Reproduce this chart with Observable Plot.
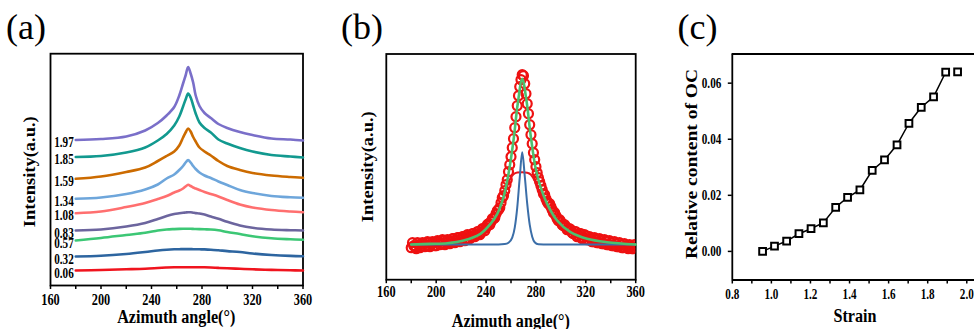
<!DOCTYPE html>
<html>
<head>
<meta charset="utf-8">
<script src="https://cdn.jsdelivr.net/npm/d3@7"></script>
<script src="https://cdn.jsdelivr.net/npm/@observablehq/plot@0.6"></script>
<style>
  html, body { margin: 0; padding: 0; background: white; }
  #fig { position: relative; width: 974px; height: 329px; overflow: hidden; background: white; }
  .panel { position: absolute; top: 0px; }
  .panel svg { display: block; background: transparent; overflow: visible; max-width: none; }
  .panel svg text { font-family: 'Liberation Serif','Times New Roman',serif !important; font-weight: bold !important; fill: black; }
  .pa svg text, .pb svg text { font-size: 16px !important; }
  .pa svg g[aria-label="text"] text { font-size: 14.5px !important; }
  .pc svg text { font-size: 14.5px !important; }
</style>
</head>
<body>
<div id="fig"></div>
<script>
// ---------------- Panel (a): stacked azimuthal profiles ----------------
const angleA = [180,200,220,235,245,252,258,262,265,267,269,271,273,275,278,282,287,293,300,310,320,335,350,360];
const strainLabels = ["1.97","1.85","1.59","1.34","1.08","0.83","0.57","0.32","0.06"];
const curveColors = ["#7A6FC9","#12998F","#CC6B00","#6EA6DB","#FF6F6F","#6C659E","#3CC775","#2D65A0","#F0141E"];
const s197 = [145.5,146.5,149,155,162.5,170,178.5,190,202,210,218.5,212,203,190,179.5,172.5,167.5,161.5,157.5,153.5,150.5,147,146,145];
const s185 = [128.5,129.5,133,138,145,151.5,160,169,179,186,192,188,180,172,163,157.5,153,146,142,137.5,134,130.5,129,128];
const s159 = [106.7,109,113.5,118,124.5,129.5,134,140,148,153,157,154,148.5,144,138,134,130,124.5,119.5,115.5,112.5,110,108.5,107.7];
const s134 = [86.7,88,91.5,96,101,107,111,115.5,119.5,123,125.5,123,119.5,116.5,113,110,107.5,104,100.5,95.5,92.5,89.5,88.2,87.7];
const s108 = [72.3,74,78.5,82.5,86.5,89.5,93,95,97,99,100.7,99.5,98,97,95.5,93.5,91.5,89,85.5,81,78,75.5,74,73.3];
const s083 = [55,56,59,62.5,66.5,69.5,71.5,72.2,72.7,73,73.3,73.2,72.8,72.4,72,71,69,66.8,63.7,60,57.7,56,55.3,55];
const s057 = [45,47.5,50.5,52.7,55,56,56.4,56.6,56.7,56.7,56.7,56.7,56.6,56.5,56.4,56.2,56,55.2,53.5,51.5,49.2,47.2,46.2,45.7];
const s032 = [29,29.7,31.5,33.5,35,35.8,36.2,36.3,36.4,36.4,36.4,36.4,36.3,36.3,36.2,36.1,35.8,35.2,34.4,33.5,32,30.5,29.6,29.3];
const s006 = [15,15.5,16.2,16.8,17.5,18,18.3,18.3,18.3,18.3,18.3,18.3,18.3,18.3,18.3,18.2,18,17.6,17.2,16.7,16.2,15.6,15.2,15];
const seriesA = [s197,s185,s159,s134,s108,s083,s057,s032,s006];

// ---------------- Panel (b): peak fitting ----------------
const dataAngle = [180,181,182,183,184,185,186,187,188,189,190,191,192,193,194,195,196,197,198,199,
  200,201,202,203,204,205,206,207,208,209,210,211,212,213,214,215,216,217,218,219,
  220,221,222,223,224,225,226,227,228,229,230,231,232,233,234,235,236,237,238,239,
  240,241,242,243,244,245,246,247,248,249,250,251,252,253,254,255,256,257,258,259,
  260,261,262,263,264,265,266,267,268,269,270,271,272,273,274,275,276,277,278,279,
  280,281,282,283,284,285,286,287,288,289,290,291,292,293,294,295,296,297,298,299,
  300,301,302,303,304,305,306,307,308,309,310,311,312,313,314,315,316,317,318,319,
  320,321,322,323,324,325,326,327,328,329,330,331,332,333,334,335,336,337,338,339,
  340,341,342,343,344,345,346,347,348,349,350,351,352,353,354,355,356,357,358,359,360];
const dataIntensity = [32,37,34,33,31,37,35,32,33,37,36,33,34,38,37,33,35,38,37,34,
  34,39,38,35,36,40,39,35,37,40,39,36,38,41,41,37,39,42,42,38,
  40,43,43,39,41,45,44,41,43,46,46,43,45,48,48,45,47,51,51,49,
  52,55,56,55,58,61,61,62,66,69,70,72,77,82,84,89,95,100,108,115,
  123,132,141,152,163,174,184,193,200,205,204,196,186,176,166,155,145,136,127,120,
  113,107,102,98,94,90,86,85,81,78,76,76,73,70,67,67,64,61,59,60,
  58,55,54,55,53,50,50,51,50,47,46,48,48,43,44,46,46,41,42,45,
  44,40,40,43,42,38,38,42,41,37,37,41,40,36,36,40,39,35,35,39,
  37,34,34,38,36,33,33,37,35,32,32,36,34,32,31,35,33,31,31,35,33];
const fitAngle = [180,195,209,222,235.5,243.6,249,254,258,262,265.4,269,272.4,275.6,279.6,283.7,289,297,307.7,321,337,360];
const fitSum = [35.2,35.8,36.5,39.2,45.9,55.9,65.9,82.5,105.9,139.2,175.9,200.9,179.2,145.9,112.5,92.5,75.9,59.2,47.5,40.9,37.5,35.2];
const narrowAngle = [180,250,255,258,261,263,265,267,269,271,273,275,277,279,282,290,360];
const narrowPeak = [35.2,35.2,35.6,37,42,52,72,102,127.5,104,76,55,43,37.5,35.5,35.2,35.2];
const broadAngle = [180,220,235,245,252,256,259,262,265,269,273,276,279,282,286,292,300,310,325,360];
const broadPeak = [35.2,39,46,58,75,90,100,105.5,107.2,107.5,107,105,99,90,79,66,54,46,40,35.5];

// ---------------- Panel (c): relative OC content ----------------
const strain = [0.955,1.016,1.078,1.141,1.203,1.266,1.329,1.390,1.453,1.516,1.579,1.643,1.704,1.767,1.830,1.892,1.953];
const ocContent = [0.0000,0.0019,0.0037,0.0063,0.0081,0.0102,0.0157,0.0193,0.0219,0.0289,0.0326,0.0380,0.0457,0.0514,0.0551,0.0639,0.0640];

// tick values
const angleTicks = [160,180,200,220,240,260,280,300,320,340,360];
const strainTicks = [0.8,0.9,1.0,1.1,1.2,1.3,1.4,1.5,1.6,1.7,1.8,1.9,2.0];
const ocTicks = [0,0.02,0.04,0.06];

const FONT = "'Liberation Serif','Times New Roman',serif";
const fig = document.getElementById("fig");

function squeeze(svg, f) {
  svg.querySelectorAll("text").forEach(t => {
    const L = t.getComputedTextLength();
    if (L > 0) { t.setAttribute("textLength", L * f); t.setAttribute("lengthAdjust", "spacingAndGlyphs"); }
  });
}
function mount(plot, cls, left) {
  const wrap = document.createElement("div");
  wrap.className = "panel " + cls;
  wrap.style.left = left + "px";
  wrap.appendChild(plot);
  fig.appendChild(wrap);
}

// Panel (a)
const tableA = seriesA.map((vals, k) => ({label: strainLabels[k], color: curveColors[k],
  pts: angleA.map((a, i) => ({angle: a, intensity: vals[i]}))}));
const plotA = Plot.plot({
  width: 320, height: 329, marginLeft: 50, marginRight: 17.5, marginTop: 53.2, marginBottom: 44,
  x: {domain: [160, 360]}, y: {domain: [0, 231.8], axis: null},
  marks: [
    Plot.frame({stroke: "black", strokeWidth: 1.8}),
    Plot.axisX(angleTicks, {label: null, tickSize: 4, tickPadding: 4.5, strokeWidth: 1.5,
      tickFormat: d => d % 40 === 0 ? String(d) : ""}),
    ...tableA.map(s => Plot.line(s.pts, {x: "angle", y: "intensity", stroke: s.color, strokeWidth: 2.6, curve: "catmull-rom"})),
    Plot.text(tableA, {x: () => angleA[0], y: s => s.pts[0].intensity, text: "label", textAnchor: "end",
      dx: -2, dy: 2.5, fill: "black"})
  ]
});

// Panel (b)
const tableData = dataAngle.map((a, i) => ({angle: a, intensity: dataIntensity[i]}));
const tableFit = fitAngle.map((a, i) => ({angle: a, intensity: fitSum[i]}));
const tableNarrow = narrowAngle.map((a, i) => ({angle: a, intensity: narrowPeak[i]}));
const tableBroad = broadAngle.map((a, i) => ({angle: a, intensity: broadPeak[i]}));
const plotB = Plot.plot({
  width: 330, height: 329, marginLeft: 65.8, marginRight: 14.8, marginTop: 53.5, marginBottom: 49.8,
  x: {domain: [160, 360]}, y: {domain: [0, 225.7], axis: null},
  marks: [
    Plot.frame({stroke: "black", strokeWidth: 1.8}),
    Plot.axisX(angleTicks, {label: null, tickSize: 4, tickPadding: 1.5, strokeWidth: 1.5,
      tickFormat: d => d % 40 === 0 ? String(d) : ""}),
    Plot.dot(tableData, {x: "angle", y: "intensity", r: 4.5, stroke: "#EE1111", strokeWidth: 2.2, fill: "none", clip: true}),
    Plot.line(tableBroad, {x: "angle", y: "intensity", stroke: "#E8151B", strokeWidth: 2, curve: "monotone-x"}),
    Plot.line(tableNarrow, {x: "angle", y: "intensity", stroke: "#3B6EA8", strokeWidth: 2, curve: "monotone-x"}),
    Plot.line(tableFit, {x: "angle", y: "intensity", stroke: "#4CC06E", strokeWidth: 2.6, curve: "catmull-rom"})
  ]
});

// Panel (c)
const tableC = strain.map((s, i) => ({strain: s, oc: ocContent[i]}));
const plotC = Plot.plot({
  width: 324, height: 329, marginLeft: 81.8, marginRight: 0, marginTop: 53.5, marginBottom: 49.5,
  x: {domain: [0.8, 2.0395]}, y: {domain: [-0.0102, 0.0704]},
  marks: [
    Plot.ruleX([0.8], {stroke: "black", strokeWidth: 1.8}),
    Plot.ruleY([-0.0102, 0.0704], {stroke: "black", strokeWidth: 1.8}),
    Plot.axisX(strainTicks, {label: null, tickSize: 4, tickPadding: 4.5, strokeWidth: 1.5,
      tickFormat: d => Math.round(d * 10) % 2 === 0 ? d.toFixed(1) : ""}),
    Plot.axisY(ocTicks, {label: null, tickSize: 4, tickPadding: 7, strokeWidth: 1.5, tickFormat: d => d.toFixed(2)}),
    Plot.line(tableC.slice(0, 16), {x: "strain", y: "oc", stroke: "black", strokeWidth: 1.5}),
    Plot.dot(tableC, {x: "strain", y: "oc", symbol: "square", r: 3.8, stroke: "black", strokeWidth: 2, fill: "white"})
  ]
});

mount(plotA, "pa", 0);
mount(plotB, "pb", 320);
mount(plotC, "pc", 650);
squeeze(plotA, 0.77);
squeeze(plotB, 0.77);
squeeze(plotC, 0.77);

// Overlay: panel letters and axis titles
const ov = d3.select(fig).append("svg")
  .attr("width", 974).attr("height", 329)
  .style("position", "absolute").style("left", "0px").style("top", "0px")
  .style("pointer-events", "none").style("font-family", FONT);

[["(a)", 26], ["(b)", 362], ["(c)", 697.5]].forEach(([t, x]) => {
  ov.append("text").attr("x", x).attr("y", 38.8).attr("text-anchor", "middle")
    .attr("font-size", 36).attr("fill", "black").text(t);
});
[["Azimuth angle(°)", 176.2, 322.5], ["Azimuth angle(°)", 510.8, 327], ["Strain", 855, 321.7]].forEach(([t, x, y]) => {
  ov.append("text").attr("transform", `translate(${x},${y}) scale(0.85,1)`).attr("text-anchor", "middle")
    .attr("font-size", 19).attr("font-weight", "bold").attr("fill", "black").text(t);
});
[["Intensity(a.u.)", 34.5, 171.7, 18.5], ["Intensity(a.u.)", 372.8, 166.7, 18.5], ["Relative content of OC", 696.5, 164, 19.5]].forEach(([t, x, y, s]) => {
  ov.append("text").attr("transform", `translate(${x},${y}) scale(0.88,1) rotate(-90)`).attr("text-anchor", "middle")
    .attr("font-size", s).attr("font-weight", "bold").attr("fill", "black").text(t);
});
</script>
</body>
</html>
